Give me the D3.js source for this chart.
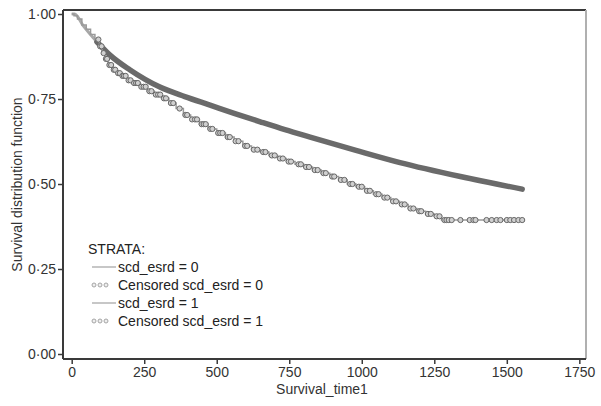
<!DOCTYPE html>
<html>
<head>
<meta charset="utf-8">
<script src="https://d3js.org/d3.v7.min.js"></script>
<style>
  html, body { margin: 0; padding: 0; background: #fff; }
  svg { display: block; font-family: "Liberation Sans", Arial, Helvetica, sans-serif; }
</style>
</head>
<body>
<svg id="chart" width="601" height="406"></svg>
<script>
// ---- data ----
const xTicks = [0, 250, 500, 750, 1000, 1250, 1500, 1750];
const yTicks = [0, 0.25, 0.5, 0.75, 1.0];
const yTickLabels = ["0·00", "0·25", "0·50", "0·75", "1·00"];

// scd_esrd = 0 (smooth, large group)
const upperTime = [0, 10, 40, 87, 132, 200, 304, 390, 477, 560, 650, 735, 822, 980, 1132, 1340, 1553];
const upperSurv = [1.0, 1.0, 0.965, 0.918, 0.879, 0.836, 0.785, 0.757, 0.732, 0.708, 0.683, 0.660, 0.638, 0.599, 0.563, 0.522, 0.485];
const upperCensorStart = 87;

// scd_esrd = 1 (step curve)
const lowerTime = [0, 8, 20, 35, 50, 65, 80, 95, 105, 115, 125, 140, 155, 170, 190, 210, 235, 260, 285, 310, 335, 360, 385, 410, 440, 470, 500, 530, 560, 590, 620, 650, 680, 710, 740, 770, 800, 830, 860, 890, 920, 950, 980, 1010, 1040, 1070, 1100, 1130, 1160, 1190, 1220, 1250, 1275, 1553];
const lowerSurv = [1.0, 0.995, 0.985, 0.968, 0.955, 0.94, 0.925, 0.905, 0.885, 0.868, 0.85, 0.836, 0.826, 0.818, 0.805, 0.797, 0.786, 0.773, 0.763, 0.752, 0.738, 0.722, 0.703, 0.69, 0.676, 0.662, 0.65, 0.638, 0.626, 0.612, 0.601, 0.594, 0.584, 0.575, 0.566, 0.558, 0.55, 0.541, 0.532, 0.522, 0.512, 0.5, 0.492, 0.48, 0.47, 0.46, 0.449, 0.44, 0.428, 0.42, 0.412, 0.405, 0.394, 0.394];
const lowerCensored = [92, 98, 103, 110, 118, 122, 130, 136, 145, 150, 160, 166, 175, 180, 186, 196, 203, 215, 222, 228, 240, 248, 255, 268, 275, 290, 298, 305, 318, 325, 342, 350, 372, 392, 398, 415, 425, 432, 448, 455, 462, 478, 485, 505, 512, 520, 538, 545, 565, 575, 598, 605, 628, 640, 660, 668, 690, 700, 718, 728, 748, 756, 782, 790, 808, 818, 838, 848, 868, 876, 898, 905, 928, 940, 960, 968, 990, 1000, 1018, 1028, 1050, 1058, 1078, 1088, 1108, 1118, 1138, 1148, 1168, 1178, 1198, 1205, 1228, 1238, 1258, 1268, 1285, 1292, 1300, 1310, 1340, 1372, 1385, 1392, 1430, 1448, 1465, 1478, 1500, 1512, 1525, 1540, 1553];

const legendTitle = "STRATA:";
const legendItems = [
  { label: "scd_esrd = 0", kind: "line" },
  { label: "Censored scd_esrd = 0", kind: "circles" },
  { label: "scd_esrd = 1", kind: "line" },
  { label: "Censored scd_esrd = 1", kind: "circles" }
];

// ---- layout ----
const svg = d3.select("#chart");
const pL = 63, pR = 586, pT = 10, pB = 359;
const x = d3.scaleLinear().domain([-30, 1773]).range([pL, pR]);
const y = d3.scaleLinear().domain([-0.0147, 1.0118]).range([pB, pT]);

// frame
svg.append("line").attr("x1", pL).attr("x2", pR).attr("y1", pT).attr("y2", pT)
  .attr("stroke", "#3a3a3a").attr("stroke-width", 2);
svg.append("line").attr("x1", pR).attr("x2", pR).attr("y1", pT).attr("y2", pB)
  .attr("stroke", "#b0b0b0").attr("stroke-width", 2);

// axes
const xAxis = d3.axisBottom(x).tickValues(xTicks).tickSize(5).tickPadding(3).tickFormat(d3.format("d"));
const gx = svg.append("g").attr("transform", `translate(0,${pB})`).call(xAxis);
gx.select(".domain").attr("d", `M${pL},0H${pR}`).attr("stroke", "#3a3a3a").attr("stroke-width", 2);
gx.selectAll(".tick line").attr("stroke", "#3a3a3a").attr("stroke-width", 1.5);
gx.selectAll(".tick text").attr("font-size", 14).attr("fill", "#333").attr("font-family", "Liberation Sans, Arial, sans-serif");

const yAxis = d3.axisLeft(y).tickValues(yTicks).tickSize(5).tickPadding(2)
  .tickFormat((d, i) => yTickLabels[i]);
const gy = svg.append("g").attr("transform", `translate(${pL},0)`).call(yAxis);
gy.select(".domain").attr("d", `M0,${pT}V${pB}`).attr("stroke", "#3a3a3a").attr("stroke-width", 2);
gy.selectAll(".tick line").attr("stroke", "#3a3a3a").attr("stroke-width", 1.5);
gy.selectAll(".tick text").attr("font-size", 14).attr("fill", "#333").attr("font-family", "Liberation Sans, Arial, sans-serif");

// axis titles
svg.append("text").attr("x", 322).attr("y", 394).attr("text-anchor", "middle")
  .attr("font-size", 14).attr("fill", "#333").text("Survival_time1");
svg.append("text").attr("transform", `translate(22,${(pT + pB) / 2}) rotate(-90)`)
  .attr("text-anchor", "middle").attr("font-size", 14).attr("fill", "#333").text("Survival distribution function");

// upper curve
const upperPts = upperTime.map((t, i) => [t, upperSurv[i]]);
const lineGen = d3.line().x(d => x(d[0])).y(d => y(d[1])).curve(d3.curveMonotoneX);
svg.append("path").attr("d", lineGen(upperPts)).attr("fill", "none")
  .attr("stroke", "#a8a8a8").attr("stroke-width", 3);
svg.append("path").attr("d", lineGen(upperPts.filter(d => d[0] >= upperCensorStart)))
  .attr("fill", "none").attr("stroke", "#6a6a6a").attr("stroke-width", 5.5).attr("stroke-linecap", "round");

// lower step curve
const lowerPts = lowerTime.map((t, i) => [t, lowerSurv[i]]);
const stepGen = d3.line().x(d => x(d[0])).y(d => y(d[1])).curve(d3.curveStepAfter);
svg.append("path").attr("d", stepGen(lowerPts)).attr("fill", "none")
  .attr("stroke", "#9a9a9a").attr("stroke-width", 1.5);

const survAt = t => {
  let s = lowerSurv[0];
  for (let i = 0; i < lowerTime.length; i++) { if (lowerTime[i] <= t) s = lowerSurv[i]; }
  return s;
};
svg.append("g").selectAll("circle").data(lowerCensored).join("circle")
  .attr("cx", d => x(d)).attr("cy", d => y(survAt(d))).attr("r", 2.6)
  .attr("fill", "#d0d0d0").attr("stroke", "#666").attr("stroke-width", 1);

// legend
const lg = svg.append("g");
lg.append("text").attr("x", 88).attr("y", 254).attr("font-size", 14).attr("fill", "#222").text(legendTitle);
legendItems.forEach((it, i) => {
  const cy = 267 + i * 18;
  if (it.kind === "line") {
    lg.append("line").attr("x1", 92).attr("x2", 116).attr("y1", cy).attr("y2", cy)
      .attr("stroke", "#b5b5b5").attr("stroke-width", 1.5);
  } else {
    [94, 100, 106].forEach(cx => lg.append("circle").attr("cx", cx).attr("cy", cy).attr("r", 2)
      .attr("fill", "#eee").attr("stroke", "#a5a5a5").attr("stroke-width", 1));
  }
  lg.append("text").attr("x", 118).attr("y", cy + 5).attr("font-size", 14).attr("fill", "#222").text(it.label);
});
</script>
</body>
</html>
